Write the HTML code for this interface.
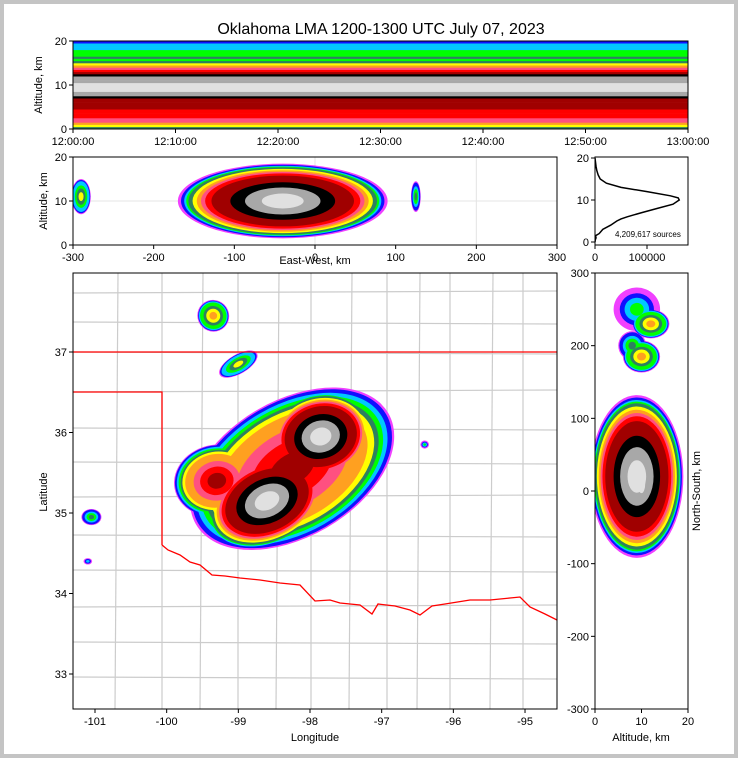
<!DOCTYPE html>
<html><head><meta charset="utf-8">
<style>
html,body{margin:0;padding:0;background:#fff}
#wrap{width:738px;height:758px;position:relative;background:#c4c4c4}
svg{position:absolute;left:0;top:0}
text{font-family:"Liberation Sans",sans-serif;fill:#000}
</style></head>
<body>
<div id="wrap">
<svg id="s" width="738" height="758" viewBox="0 0 738 758"></svg>
</div>
<script>
// ---------- DATA ----------
const colorLevels = ['#f040ff','#1010ff','#00c8ff','#00ff00','#2e8060','#ffff00','#ffa020','#ff5080','#ff0000','#a00000','#000000','#a8a8a8','#e0e0e0'];
const profileAlt = [0,0.5,1,1.5,2,2.5,3,3.5,4,4.5,5,5.5,6,6.5,7,7.5,8,8.5,9,9.5,10,10.5,11,11.5,12,12.5,13,13.5,14,14.5,15,15.5,16,16.5,17,17.5,18,18.5,19,19.5];
const profileLevel = [4,5,6,7,7,8,8,8,8,9,9,9,9,9,10,11,11,12,12,12,12,11,11,11,10,9,8,7,6,5,4,3,4,3,3,3,2,2,2,1];
const timeTicks = ['12:00:00','12:10:00','12:20:00','12:30:00','12:40:00','12:50:00','13:00:00'];
// map storms: lon, lat, rx(deg lon), ry(deg lat), rotation(deg), peak level
const stormLon = [-98.6,-97.85,-99.3,-98.25,-99.35,-99.0,-101.05,-96.4,-101.1];
const stormLat = [35.15,35.95,35.4,35.55,37.45,36.85,34.95,35.85,34.4];
const stormRx  = [0.9,0.75,0.6,1.55,0.22,0.3,0.14,0.06,0.06];
const stormRy  = [0.55,0.55,0.45,0.85,0.2,0.12,0.1,0.05,0.04];
const stormRot = [-25,-15,-10,-30,-45,-30,0,0,0];
const stormPeak= [12,12,9,9,6,5,4,3,2];
// east-west vs altitude
const ewX = [-40,-30,-290,125];
const ewA = [10,10,11,11];
const ewRx= [130,75,12,6];
const ewRy= [8.5,4,4,3.5];
const ewPeak=[12,12,5,4];
// north-south vs altitude
const nsA = [9,10,12,10,9,8];
const nsY = [20,10,230,185,250,200];
const nsRx= [10,4,4,4,5,3];
const nsRy= [112,65,20,22,30,20];
const nsPeak=[12,12,6,6,3,4];
// histogram
const histAlt = [0,0.5,1,1.5,2,3,4,5,5.5,6,7,8,9,10,10.5,11,12,13,14,15,16,17,18,19,20];
const histCount=[0,500,2000,1000,8000,15000,30000,42000,50000,62000,90000,120000,150000,162000,160000,145000,100000,50000,22000,10000,6000,3500,2000,1000,0];
const lonTicks=[-101,-100,-99,-98,-97,-96,-95];
const latTicks=[33,34,35,36,37];
const ewTicks=[-300,-200,-100,0,100,200,300];
const nsTicks=[300,200,100,0,-100,-200,-300];
const altTicks=[0,10,20];

// ---------- AXES ----------
const tx=m=>73+m/60*615, ty=a=>129-a/20*88;
const ex=k=>73+(k+300)/600*484, ey=a=>245-a*4.4;
const mx=l=>95+(l+101)*71.67, my=l=>352-(l-37)*80.5;
const nx=a=>595+a/20*93, ny=k=>491-k*436/600;
const hx=c=>595+c/100000*52, hy=a=>242-a*4.2;

const S=document.getElementById('s');
const NS='http://www.w3.org/2000/svg';
function mk(tag,attrs,parent){const e=document.createElementNS(NS,tag);for(const k in attrs)e.setAttribute(k,attrs[k]);(parent||S).appendChild(e);return e;}
function txt(x,y,str,size,anchor,parent,rot){const e=mk('text',{x:x,y:y,'font-size':size,'text-anchor':anchor||'middle'},parent);if(rot)e.setAttribute('transform','rotate('+rot+' '+x+' '+y+')');e.textContent=str;return e;}

mk('rect',{x:4,y:4,width:730,height:750,fill:'#fff'});
const title=txt(381,34,'Oklahoma LMA 1200-1300 UTC July 07, 2023',16);


function clip(id,x,y,w,h){const d=mk('defs',{});const c=mk('clipPath',{id:id},d);mk('rect',{x:x,y:y,width:w,height:h},c);}
clip('cTop',73,41,615,88);clip('cEw',73,157,484,88);clip('cMap',73,273,484,436);clip('cNs',595,273,93,436);clip('cH',595,157,93,88);

const gTop=mk('g',{'clip-path':'url(#cTop)'});

for(let i=0;i<profileAlt.length;i++){
  const r=mk('rect',{x:tx(0),y:ty(profileAlt[i]+0.5),width:tx(60)-tx(0),height:ty(profileAlt[i])-ty(profileAlt[i]+0.5)+0.3,fill:colorLevels[profileLevel[i]]},gTop);
  
}
const bandScale=[1,0.97,0.94,0.92,0.9,0.86,0.82,0.78,0.74,0.68,0.5,0.36,0.2];
function blobs(g,xs,ys,rxs,rys,rots,peaks,fx,fy){
  const maxP=Math.max(...peaks);
  for(let lv=0;lv<=maxP;lv++){
    for(let i=0;i<xs.length;i++){
      if(lv>peaks[i])continue;
      const off=12-peaks[i];
      const f=bandScale[lv+off]/bandScale[off];
      const cx=fx(xs[i]),cy=fy(ys[i]);
      const rx=Math.abs(fx(xs[i]+rxs[i]*f)-cx),ry=Math.abs(fy(ys[i]+rys[i]*f)-cy);
      const e=mk('ellipse',{cx:cx,cy:cy,rx:rx,ry:ry,fill:colorLevels[lv],transform:'rotate('+(rots?rots[i]:0)+' '+cx+' '+cy+')'},g);
      
      
    }
  }
}
const gEw=mk('g',{'clip-path':'url(#cEw)'});

[ex(0),ex(200)].forEach(x=>mk('line',{x1:x,y1:157,x2:x,y2:245,stroke:'#e4e4e4'},gEw));
mk('line',{x1:73,y1:ey(10),x2:557,y2:ey(10),stroke:'#e4e4e4'},gEw);
blobs(gEw,ewX,ewA,ewRx,ewRy,null,ewPeak,ex,ey);

const gMap=mk('g',{'clip-path':'url(#cMap)'});

const gc=mk('g',{stroke:'#cccccc','stroke-width':1.2,fill:'none'},gMap);

[73,115,162,200,238,276,311,349,387,417,450,490,523].forEach((x,i)=>{mk('line',{x1:x+(i%2?3:0),y1:273,x2:x,y2:709},gc);});
[293,322,352,392,428,462,497,535,570,607,642,677].forEach((y,i)=>{mk('line',{x1:73,y1:y,x2:557,y2:y+(i%3?2:-2)},gc);});
blobs(gMap,stormLon,stormLat,stormRx,stormRy,stormRot,stormPeak,mx,my);
const red=mk('g',{stroke:'#ff0000','stroke-width':1.3,fill:'none'},gMap);

mk('line',{x1:73,y1:352,x2:557,y2:352},red);
mk('polyline',{points:'73,392 162,392 162,545'},red);
mk('polyline',{points:'162,545 168,550 180,555 190,562 200,565 212,575 225,576 240,578 260,580 280,583 300,585 315,601 330,600 340,603 360,605 372,614 378,604 395,606 410,610 420,615 432,606 445,604 470,600 490,600 510,598 520,597 530,607 545,614 557,620'},red);

const gNs=mk('g',{'clip-path':'url(#cNs)'});

blobs(gNs,nsA,nsY,nsRx,nsRy,null,nsPeak,nx,ny);

let pts=histAlt.map((a,i)=>hx(histCount[i])+','+hy(a)).join(' ');
const hl=mk('polyline',{points:pts,fill:'none',stroke:'#000','stroke-width':1.5,'clip-path':'url(#cH)'});

txt(615,237,'4,209,617 sources',8,'start');

function frame(x,y,w,h,name){const r=mk('rect',{x:x,y:y,width:w,height:h,fill:'none',stroke:'#000','stroke-width':1});}
frame(73,41,615,88,'time-height-axes');frame(73,157,484,88,'east-west-axes');frame(595,157,93,88,'histogram-axes');frame(73,273,484,436,'map-axes');frame(595,273,93,436,'north-south-axes');
function tickX(x,y,label){mk('line',{x1:x,y1:y,x2:x,y2:y+4,stroke:'#000'});txt(x,y+16,label,11);}
function tickY(x,y,label){mk('line',{x1:x,y1:y,x2:x-4,y2:y,stroke:'#000'});txt(x-6,y+4,label,11,'end');}
timeTicks.forEach((t,i)=>tickX(tx(i*10),129,t));
altTicks.forEach(a=>tickY(73,ty(a),a));
ewTicks.forEach(k=>tickX(ex(k),245,k));
altTicks.forEach(a=>tickY(73,ey(a),a));
[0,100000].forEach(c=>tickX(hx(c),245,c));
[0,10,20].forEach(a=>tickY(595,hy(a),a));
lonTicks.forEach(l=>tickX(mx(l),709,l));
latTicks.forEach(l=>tickY(73,my(l),l));
[0,10,20].forEach(a=>tickX(nx(a),709,a));
nsTicks.forEach(k=>tickY(595,ny(k),k));
txt(42,85,'Altitude, km',11,'middle',null,-90);
txt(47,201,'Altitude, km',11,'middle',null,-90);
txt(315,264,'East-West, km',11);
txt(315,741,'Longitude',11);
txt(47,492,'Latitude',11,'middle',null,-90);
txt(641,741,'Altitude, km',11);
txt(700,491,'North-South, km',11,'middle',null,-90);
</script>
</body></html>
